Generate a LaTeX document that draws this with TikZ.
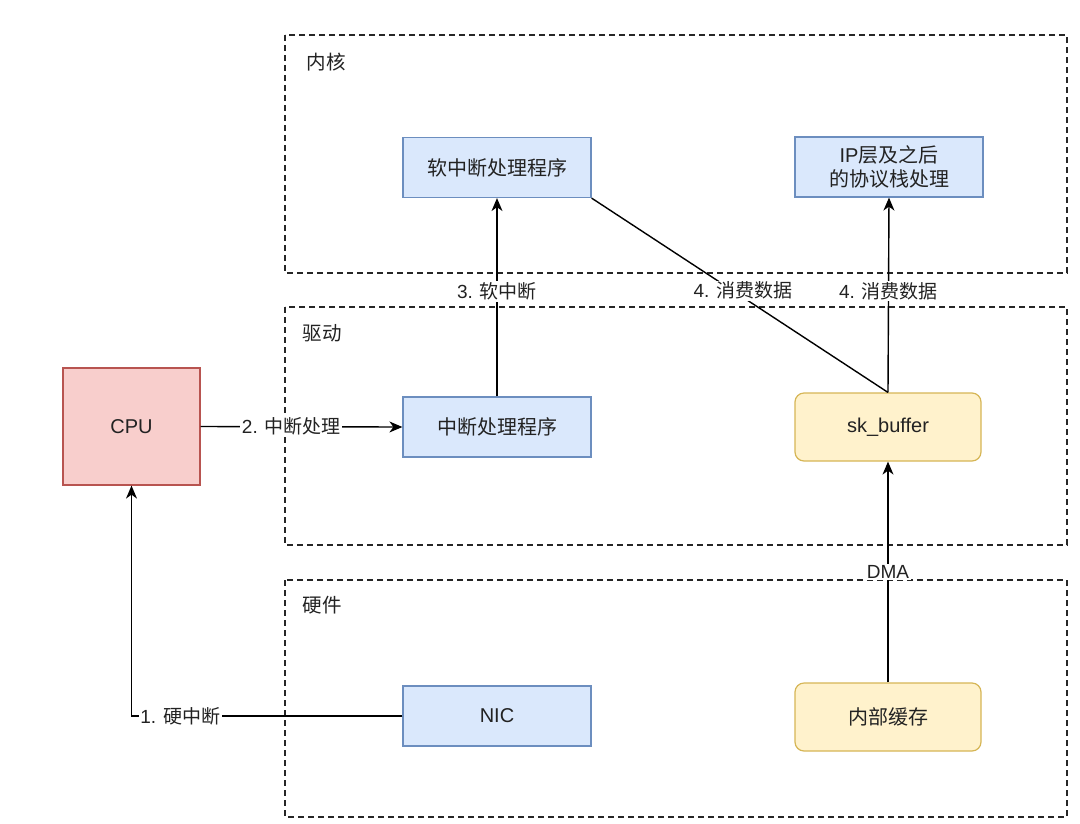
\documentclass[tikz,border=0pt]{standalone}
\usepackage{fontspec}
\setmainfont{Liberation Sans}
\newfontfamily\cjk{Noto Sans CJK SC}
\usetikzlibrary{arrows.meta}
\definecolor{bfill}{HTML}{DAE8FC}
\definecolor{bdraw}{HTML}{6C8EBF}
\definecolor{rfill}{HTML}{F8CECC}
\definecolor{rdraw}{HTML}{B85450}
\definecolor{yfill}{HTML}{FFF2CC}
\definecolor{ydraw}{HTML}{D6B656}
\definecolor{txt}{HTML}{222222}
\tikzset{
  group/.style={draw=black!85, line width=1.3pt, dash pattern=on 6pt off 4pt},
  grouplabel/.style={text=txt, font=\fontsize{19.5}{22}\selectfont\cjk, inner sep=0pt},
  bluebox/.style={draw=bdraw, fill=bfill, line width=1.2pt, text=txt, minimum width=188pt, minimum height=60pt, align=center, font=\fontsize{20}{24}\selectfont},
  redbox/.style={draw=rdraw, fill=rfill, line width=1.2pt, text=txt, minimum width=137pt, minimum height=117pt, font=\fontsize{20}{24}\selectfont},
  yellowbox/.style={draw=ydraw, fill=yfill, line width=1.2pt, text=txt, rounded corners=9pt, minimum width=186pt, minimum height=68pt, font=\fontsize{20}{24}\selectfont},
  conn/.style={draw=black, line width=1.4pt},
  arr/.style={conn, -{Stealth[length=13pt,width=11pt,inset=4pt]}},
  lbl/.style={fill=white, text=txt, inner sep=1.5pt, font=\fontsize{19}{22}\selectfont}
}
\begin{document}
\begin{tikzpicture}[x=1pt,y=-1pt]
\useasboundingbox (0,0) rectangle (1080,823);
\fill[white] (0,0) rectangle (1080,823);
% containers
\draw[group] (285,35) rectangle (1067,273);
\draw[group] (285,307) rectangle (1067,545);
\draw[group] (285,580) rectangle (1067,817);
\node[grouplabel] (kl) at (326,62) {内核};
\node[grouplabel] (dl) at (322,333) {驱动};
\node[grouplabel] (hl) at (322,605) {硬件};
% nodes
\node[bluebox] (soft) at (497,167.5) {{\cjk 软中断处理程序}};
\node[bluebox] (ip) at (889,167) {IP{\cjk 层及之后}\\{\cjk 的协议栈处理}};
\node[redbox] (cpu) at (131.5,426.5) {CPU};
\node[bluebox] (irq) at (497,427) {{\cjk 中断处理程序}};
\node[yellowbox] (skb) at (888,427) {sk\_buffer};
\node[bluebox] (nic) at (497,716) {NIC};
\node[yellowbox] (cache) at (888,717) {{\cjk 内部缓存}};
% connectors
\draw[arr] (cpu.east) -- (irq.west) node[lbl, pos=0.45] {2. {\cjk 中断处理}};
\draw[arr] (irq.north) -- (soft.south) node[lbl, pos=0.53] {3. {\cjk 软中断}};
\draw[arr] (skb.north) -- (ip.south) node[lbl, pos=0.52] {4. {\cjk 消费数据}};
\draw[conn] (skb.north) -- (soft.south east) node[lbl, pos=0.523, xshift=10pt] {4. {\cjk 消费数据}};
\draw[arr] (cache.north) -- (skb.south) node[lbl, pos=0.5] {DMA};
\draw[arr] (nic.west) -| (cpu.south) node[lbl, pos=0.41] {1. {\cjk 硬中断}};
\end{tikzpicture}
\end{document}
